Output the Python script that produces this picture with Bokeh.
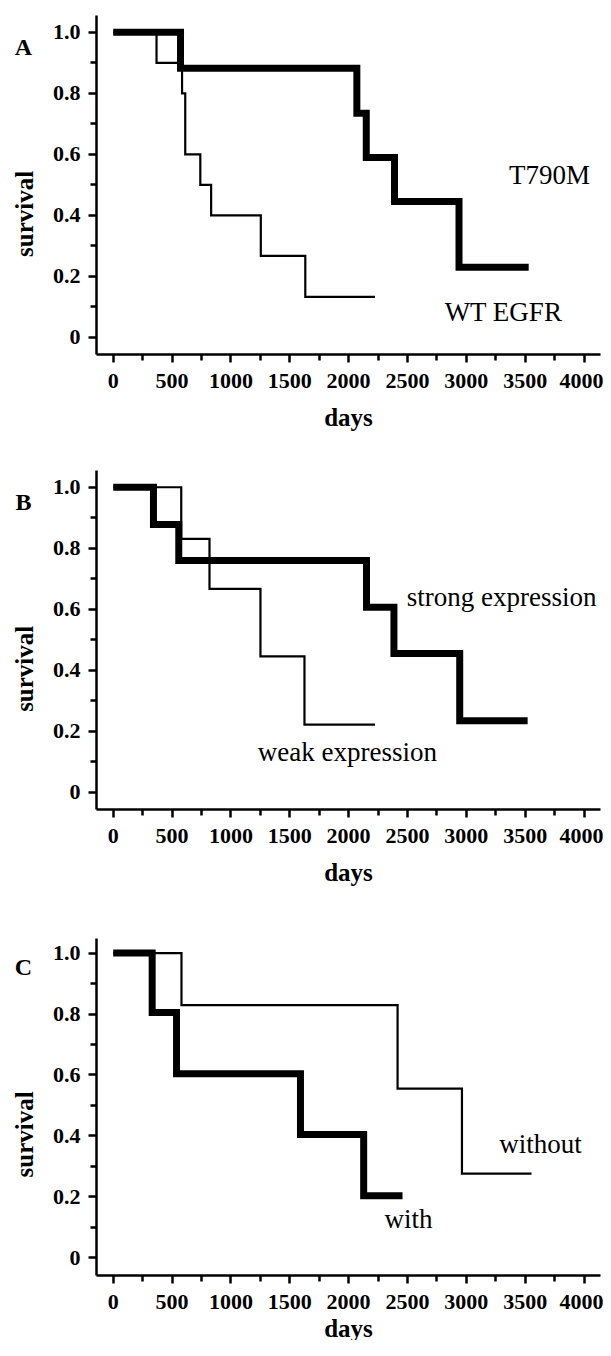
import math
from bokeh.plotting import figure
from bokeh.layouts import column
from bokeh.models import FixedTicker, Label, Range1d
from bokeh.embed import file_html
from bokeh.resources import INLINE

# ---------------- data ----------------
X_TICKS = [0, 500, 1000, 1500, 2000, 2500, 3000, 3500, 4000]
X_MINOR = [250, 750, 1250, 1750, 2250, 2750, 3250, 3750]
Y_TICKS = [0, 0.2, 0.4, 0.6, 0.8, 1.0]
Y_TICK_LABELS = ["0", "0.2", "0.4", "0.6", "0.8", "1.0"]
Y_MINOR = [0.1, 0.3, 0.5, 0.7, 0.9]

# Panel A
t790m_days = [0, 572, 2070, 2150, 2390, 2938, 3530]
t790m_surv = [1.0, 0.882, 0.735, 0.59, 0.445, 0.23, 0.23]
wt_days = [0, 368, 585, 612, 740, 832, 1254, 1632, 2224]
wt_surv = [1.0, 0.9, 0.8, 0.6, 0.5, 0.4, 0.267, 0.133, 0.133]

# Panel B
strong_days = [0, 342, 557, 2152, 2385, 2944, 3521]
strong_surv = [1.0, 0.878, 0.76, 0.607, 0.455, 0.235, 0.235]
weak_days = [0, 578, 818, 1251, 1625, 2224]
weak_surv = [1.0, 0.831, 0.667, 0.446, 0.222, 0.222]

# Panel C
with_days = [0, 331, 538, 1591, 2128, 2458]
with_surv = [1.0, 0.805, 0.604, 0.405, 0.204, 0.204]
without_days = [0, 580, 2416, 2963, 3554]
without_surv = [1.0, 0.829, 0.555, 0.276, 0.276]

SERIF = "Liberation Serif"

# visible extent of the axes (data units)
X_AX = (-142, 4140)
# whole-figure ranges (frame fills the figure, axes are placed inside it)
X_VIEW = (-957.6, 4165.6)


def make_panel(letter, thin, thick, notes, height, y_view, y_ax, days_standoff):
    p = figure(width=603, height=height,
               x_range=Range1d(*X_VIEW), y_range=Range1d(*y_view),
               output_backend="svg", toolbar_location=None,
               min_border_left=0, min_border_right=0, min_border_top=0,
               min_border_bottom=0)
    p.outline_line_color = None
    p.xgrid.visible = False
    p.ygrid.visible = False
    p.background_fill_color = "white"
    p.border_fill_color = "white"

    xa = p.xaxis[0]
    ya = p.yaxis[0]
    for ax in (xa, ya):
        ax.axis_line_width = 2.5
        ax.axis_line_color = "black"
        ax.major_tick_line_width = 2.5
        ax.minor_tick_line_width = 2.5
        ax.major_tick_line_color = "black"
        ax.minor_tick_line_color = "black"
        ax.major_tick_in = 0
        ax.minor_tick_in = 0
        ax.major_tick_out = 8
        ax.minor_tick_out = 6
        ax.major_label_text_font = SERIF
        ax.major_label_text_font_style = "bold"
        ax.major_label_text_font_size = "22px"
        ax.major_label_text_color = "black"

    xa.fixed_location = y_ax[0]
    xa.bounds = X_AX
    xa.ticker = FixedTicker(ticks=X_TICKS, minor_ticks=X_MINOR)
    xa.major_label_standoff = 12
    xa.axis_label = "days"
    xa.axis_label_text_font = SERIF
    xa.axis_label_text_font_style = "bold"
    xa.axis_label_text_font_size = "25px"
    xa.axis_label_text_color = "black"
    xa.axis_label_standoff = days_standoff

    ya.fixed_location = X_AX[0]
    ya.bounds = y_ax
    ya.ticker = FixedTicker(ticks=Y_TICKS, minor_ticks=Y_MINOR)
    ya.major_label_standoff = 8
    ya.major_label_overrides = {t: s for t, s in zip(Y_TICKS, Y_TICK_LABELS)}

    # survival curves
    p.step(x=thin[0], y=thin[1], mode="after", line_width=2.2,
           line_color="black", line_join="miter")
    p.step(x=thick[0], y=thick[1], mode="after", line_width=7,
           line_color="black", line_join="miter")

    # panel letter and y label
    p.add_layout(Label(x=-762, y=0.953, text=letter, text_font=SERIF,
                       text_font_style="bold", text_font_size="24px",
                       text_align="center", text_baseline="alphabetic",
                       text_color="black"))
    p.add_layout(Label(x=-757, y=0.405, text="survival", text_font=SERIF,
                       text_font_style="bold", text_font_size="25px",
                       text_align="center", text_baseline="alphabetic",
                       angle=math.pi / 2, text_color="black"))

    for txt, x, y in notes:
        p.add_layout(Label(x=x, y=y, text=txt, text_font=SERIF,
                           text_font_size="27px", text_align="center",
                           text_baseline="alphabetic", text_color="black"))
    return p


pa = make_panel("A", (wt_days, wt_surv), (t790m_days, t790m_surv),
                [("T790M", 3707, 0.533), ("WT EGFR", 3316, 0.084)],
                463, (-0.4134, 1.1042), (-0.056, 1.055), 12)
pb = make_panel("B", (weak_days, weak_surv), (strong_days, strong_surv),
                [("strong expression", 3300, 0.640), ("weak expression", 1989, 0.132)],
                467, (-0.4527, 1.0779), (-0.056, 1.055), 12)
pc = make_panel("C", (without_days, without_surv), (with_days, with_surv),
                [("without", 3630, 0.375), ("with", 2508, 0.126)],
                410, (-0.2714, 1.0742), (-0.058, 1.047), 2)

layout = column(pa, pb, pc, spacing=0)
open("out.html", "w").write(file_html(layout, INLINE))
